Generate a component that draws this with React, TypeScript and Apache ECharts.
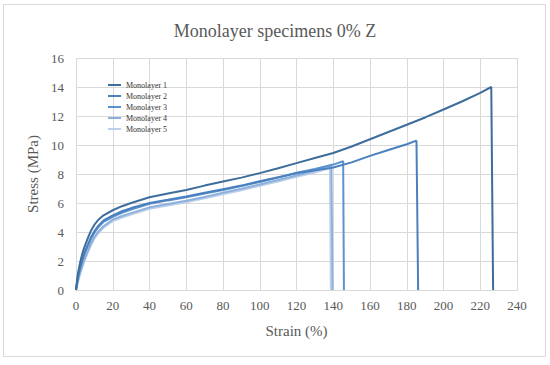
import React, { useEffect, useRef } from "react";
import * as echarts from "echarts";

const TITLE = "Monolayer specimens 0% Z";
const X_NAME = "Strain (%)";
const Y_NAME = "Stress (MPa)";
const SERIES_NAMES = ["Monolayer 1", "Monolayer 2", "Monolayer 3", "Monolayer 4", "Monolayer 5"];
const COLORS = ["#3e6d9c", "#4a80bd", "#5b92cf", "#8db0dc", "#bcd0ea"];

const mono1: number[][] = [
  [0, 0], [0.5, 0.6], [1, 1.1], [2, 1.75], [3, 2.3], [4, 2.75], [5, 3.1], [6.5, 3.6], [8, 4.05],
  [10, 4.5], [12, 4.82], [15, 5.15], [20, 5.5], [25, 5.78], [30, 6.0], [40, 6.4], [50, 6.65],
  [60, 6.9], [70, 7.2], [80, 7.48], [90, 7.75], [100, 8.06], [110, 8.4], [120, 8.75], [130, 9.1],
  [140, 9.45], [150, 9.9], [160, 10.4], [170, 10.9], [180, 11.4], [190, 11.9], [200, 12.45],
  [210, 13.0], [220, 13.6], [226, 14.0], [227, 0],
];
const mono2: number[][] = [
  [0, 0], [0.5, 0.45], [1, 0.85], [2, 1.45], [3, 1.9], [4, 2.35], [5, 2.7], [6.5, 3.15], [8, 3.6],
  [10, 4.05], [12, 4.4], [15, 4.8], [20, 5.15], [25, 5.43], [30, 5.65], [40, 6.0], [50, 6.22],
  [60, 6.45], [70, 6.7], [80, 6.95], [90, 7.2], [100, 7.5], [110, 7.78], [120, 8.05], [130, 8.25],
  [140, 8.45], [150, 8.8], [160, 9.25], [170, 9.65], [180, 10.05], [185.3, 10.3], [186.2, 0],
];
const mono3: number[][] = [
  [0, 0], [0.5, 0.4], [1, 0.8], [2, 1.4], [3, 1.85], [4, 2.25], [5, 2.6], [6.5, 3.05], [8, 3.5],
  [10, 3.95], [12, 4.3], [15, 4.7], [20, 5.05], [25, 5.33], [30, 5.55], [40, 5.95], [50, 6.18],
  [60, 6.4], [70, 6.65], [80, 6.9], [90, 7.17], [100, 7.45], [110, 7.75], [120, 8.08], [130, 8.35],
  [140, 8.65], [145.4, 8.88], [145.8, 0],
];
const mono4: number[][] = [
  [0, 0], [0.5, 0.3], [1, 0.6], [2, 1.1], [3, 1.5], [4, 1.9], [5, 2.25], [6.5, 2.7], [8, 3.15],
  [10, 3.65], [12, 4.0], [15, 4.4], [20, 4.85], [25, 5.1], [30, 5.3], [40, 5.7], [50, 5.93],
  [60, 6.15], [70, 6.42], [80, 6.7], [90, 6.98], [100, 7.28], [110, 7.58], [120, 7.9], [130, 8.22],
  [139, 8.6], [139.6, 0],
];
const mono5: number[][] = [
  [0, 0], [0.5, 0.25], [1, 0.5], [2, 1.0], [3, 1.4], [4, 1.8], [5, 2.15], [6.5, 2.6], [8, 3.05],
  [10, 3.55], [12, 3.9], [15, 4.3], [20, 4.75], [25, 5.0], [30, 5.2], [40, 5.6], [50, 5.83],
  [60, 6.05], [70, 6.32], [80, 6.6], [90, 6.88], [100, 7.18], [110, 7.48], [120, 7.8], [130, 8.1],
  [138.2, 8.4], [138.7, 0],
];
const SERIES_DATA = [mono1, mono2, mono3, mono4, mono5];

const X_MIN = 0, X_MAX = 240, X_STEP = 20;
const Y_MIN = 0, Y_MAX = 16, Y_STEP = 2;

const FONT = "'Liberation Serif', 'Times New Roman', serif";

export default function App() {
  const ref = useRef<HTMLDivElement>(null);
  useEffect(() => {
    if (!ref.current) return;
    const chart = echarts.init(ref.current, undefined, { renderer: "svg" });
    chart.setOption({
      animation: false,
      backgroundColor: "#ffffff",
      title: {
        text: TITLE,
        left: "center",
        top: 17,
        textStyle: { fontFamily: FONT, fontSize: 18, fontWeight: "normal", color: "#595959" },
      },
      graphic: [
        {
          type: "rect",
          shape: { x: 3.5, y: 4.5, width: 542, height: 352 },
          style: { fill: "none", stroke: "#d9d9d9", lineWidth: 1 },
          silent: true,
          z: -1,
        },
      ],
      legend: {
        orient: "vertical",
        left: 103,
        top: 76,
        itemWidth: 13,
        itemHeight: 2,
        itemGap: 3,
        icon: "rect",
        data: SERIES_NAMES,
        textStyle: { fontFamily: FONT, fontSize: 8, color: "#333333" },
      },
      grid: { left: 76, right: 33, top: 58, bottom: 75, containLabel: false },
      xAxis: {
        type: "value",
        min: X_MIN,
        max: X_MAX,
        interval: X_STEP,
        name: X_NAME,
        nameLocation: "middle",
        nameGap: 33,
        nameTextStyle: { fontFamily: FONT, fontSize: 15, color: "#595959" },
        axisLine: { show: true, lineStyle: { color: "#d9d9d9", width: 1 } },
        axisTick: { show: false },
        axisLabel: { fontFamily: FONT, fontSize: 13, color: "#595959", margin: 9 },
        splitLine: { show: true, lineStyle: { color: "#d9d9d9", width: 1 } },
      },
      yAxis: {
        type: "value",
        min: Y_MIN,
        max: Y_MAX,
        interval: Y_STEP,
        name: Y_NAME,
        nameLocation: "middle",
        nameGap: 32,
        nameTextStyle: { fontFamily: FONT, fontSize: 15, color: "#595959" },
        axisLine: { show: false },
        axisTick: { show: false },
        axisLabel: { fontFamily: FONT, fontSize: 13, color: "#595959", margin: 12 },
        splitLine: { show: true, lineStyle: { color: "#d9d9d9", width: 1 } },
      },
      series: SERIES_NAMES.map((name, i) => ({
        name,
        type: "line",
        data: SERIES_DATA[i],
        showSymbol: false,
        symbol: "none",
        smooth: false,
        color: COLORS[i],
        lineStyle: { color: COLORS[i], width: 2 },
        z: 10 - i,
      })),
    });
    return () => chart.dispose();
  }, []);
  return (
    <div
      ref={ref}
      style={{ position: "absolute", left: 0, top: 0, width: 550, height: 365 }}
    />
  );
}
